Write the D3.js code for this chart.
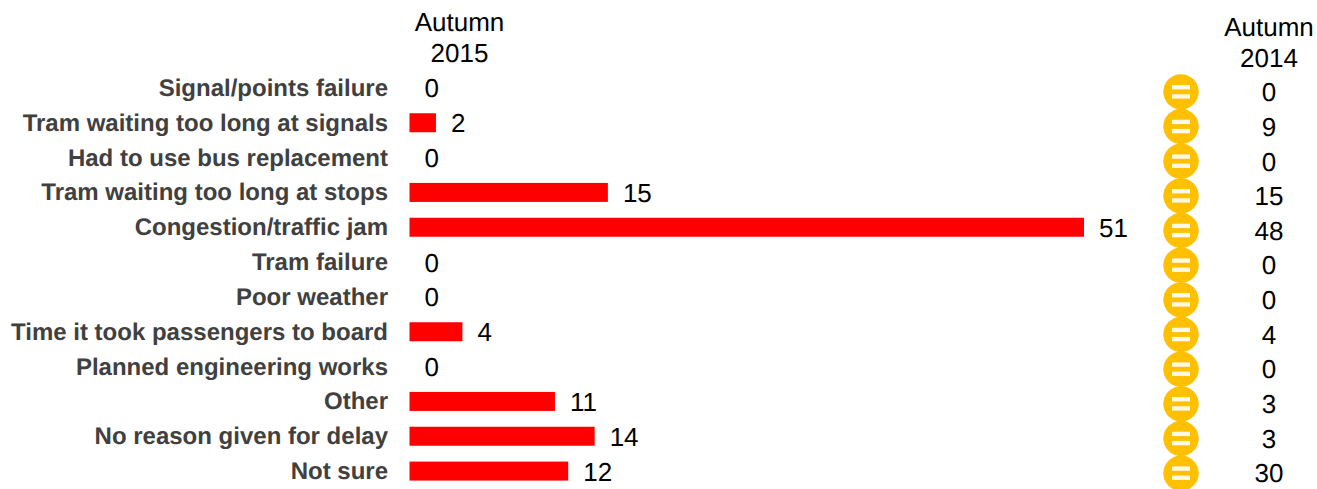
<!DOCTYPE html>
<html><head><meta charset="utf-8"><script src="https://cdn.jsdelivr.net/npm/d3@7/dist/d3.min.js"></script>
<style>html,body{margin:0;background:#fff;overflow:hidden}text{font-family:"Liberation Sans",Arial,sans-serif;text-rendering:geometricPrecision}</style></head>
<body><svg id="c" width="1317" height="489"></svg>
<script>
const categories=["Signal/points failure","Tram waiting too long at signals","Had to use bus replacement","Tram waiting too long at stops","Congestion/traffic jam","Tram failure","Poor weather","Time it took passengers to board","Planned engineering works","Other","No reason given for delay","Not sure"];
const autumn2015=[0,2,0,15,51,0,0,4,0,11,14,12];
const autumn2014=[0,9,0,15,48,0,0,4,0,3,3,30];
const header2015=["Autumn","2015"];
const header2014=["Autumn","2014"];
const svg=d3.select("#c");
const x=d3.scaleLinear().domain([0,51]).range([409.5,1084]);
const y=d3.scaleBand().domain(categories).range([70.5,488.5]);
const yR=d3.scaleBand().domain(categories).range([75,490.5]);
const yI=d3.scaleBand().domain(categories).range([74.5,490.5]);
const bh=19;
categories.forEach((c,i)=>{
 const cy=y(c)+y.bandwidth()/2, v=autumn2015[i];
 svg.append("text").attr("x",388).attr("y",cy+8).attr("text-anchor","end").attr("font-size",24).attr("font-weight","bold").attr("fill","#404040").text(c);
 if(v>0) svg.append("rect").attr("x",x(0)).attr("y",cy-bh/2).attr("width",x(v)-x(0)).attr("height",bh).attr("fill","#ff0000");
 svg.append("text").attr("x",x(v)+15).attr("y",cy+9.5).attr("font-size",26).attr("fill","#000").text(v);
 const iy=yI(c)+yI.bandwidth()/2;
 svg.append("circle").attr("cx",1181).attr("cy",iy).attr("r",17.7).attr("fill","#ffc000");
 [-4.6,4.6].forEach(d=>svg.append("rect").attr("x",1172).attr("y",iy+d-2.2).attr("width",18).attr("height",4.4).attr("fill","#fff8e6"));
 svg.append("text").attr("x",1269).attr("y",yR(c)+yR.bandwidth()/2+9).attr("text-anchor","middle").attr("font-size",26).attr("fill","#000").text(autumn2014[i]);
});
header2015.forEach((t,i)=>svg.append("text").attr("x",459.5).attr("y",31+i*31).attr("text-anchor","middle").attr("font-size",26).attr("fill","#000").text(t));
header2014.forEach((t,i)=>svg.append("text").attr("x",1269).attr("y",35.5+i*31.5).attr("text-anchor","middle").attr("font-size",26).attr("fill","#000").text(t));
</script></body></html>
